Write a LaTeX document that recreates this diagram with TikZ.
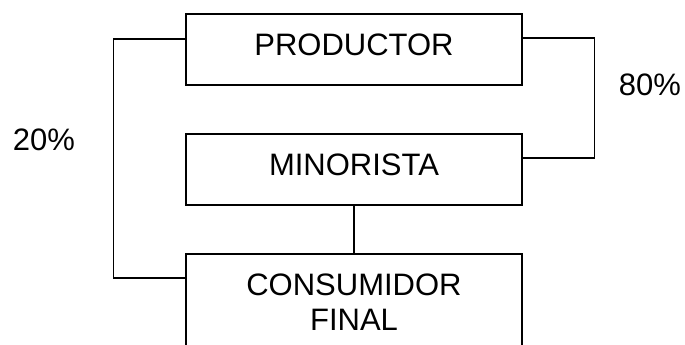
\documentclass[tikz,border=0pt]{standalone}
\usepackage{fontspec}
\setmainfont{Liberation Sans}
\usetikzlibrary{calc}
\tikzset{
	caja/.style={draw, line width=1.3pt, minimum width=336pt, minimum height=71pt, inner sep=0pt, align=center, font=\fontsize{31}{35}\selectfont},
	unalinea/.style={text height=22pt, text depth=9.8pt},
	linea/.style={line width=1.3pt},
	pct/.style={font=\fontsize{31}{35}\selectfont}
}
\begin{document}
\begin{tikzpicture}[x=1pt, y=-1pt]
		%%%%% START %%%%%
		\useasboundingbox (0, 0) rectangle (685, 345);
		
		\node[caja, unalinea] (prod) at (354, 49.5) {PRODUCTOR};
		\node[caja, unalinea] (mino) at (354, 169.5) {MINORISTA};
		\node[caja, minimum height=97pt] (cons) at (354, 302.5) {CONSUMIDOR\\FINAL};
		
		\node[pct] (veinte) at (44, 140) {20\%};
		\node[pct] (ochenta) at (650, 85) {80\%};
		
		\draw[linea] ([yshift=11.5pt]prod.east) -- ++(72, 0) |- ([yshift=11.5pt]mino.east);
		\draw[linea] ([yshift=10.5pt]prod.west) -- ++(-72, 0) |- ([yshift=24.5pt]cons.west);
		\draw[linea] (mino.south) -- (cons.north);
		%%%%% END %%%%%
	\end{tikzpicture}
\end{document}
